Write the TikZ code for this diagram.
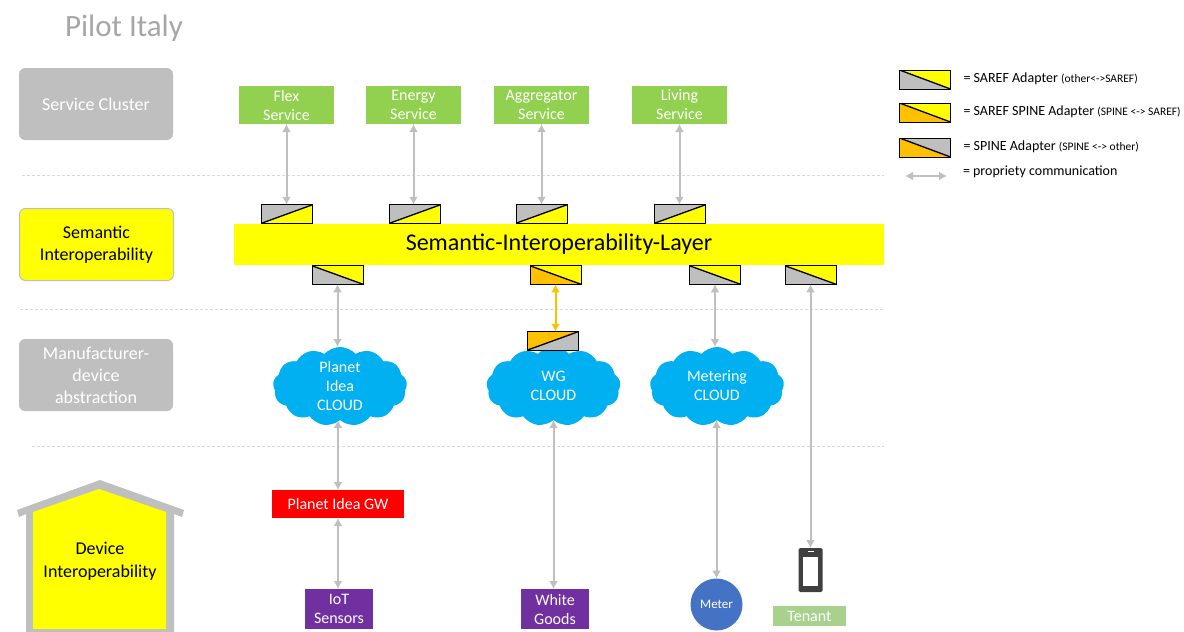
\documentclass[tikz,border=0pt]{standalone}
\usepackage{fontspec}
\setmainfont{Carlito}
\usetikzlibrary{positioning}
\usetikzlibrary{shapes.symbols}
\usetikzlibrary{arrows.meta}
\definecolor{lightgrey}{HTML}{BFBFBF}
\definecolor{darkgrey}{HTML}{404040}
\definecolor{titlegrey}{HTML}{A6A6A6}
\definecolor{dashgrey}{HTML}{D5D8DE}
\definecolor{brightyellow}{HTML}{FFFF00}
\definecolor{servicegreen}{HTML}{92D050}
\definecolor{tenantgreen}{HTML}{A9D18E}
\definecolor{cloudblue}{HTML}{00B0F0}
\definecolor{meterblue}{HTML}{4472C4}
\definecolor{sensorpurple}{HTML}{7030A0}
\definecolor{adapterorange}{HTML}{FFC000}
\definecolor{gwred}{HTML}{FF0000}
\tikzset{
	every node/.style = {font=\fontsize{16}{19}\selectfont, align=center, inner sep=0pt, outer sep=0pt},
	layerbox/.style = {fill=lightgrey, rounded corners=6pt, text=white, minimum width=154pt, minimum height=72pt, font=\fontsize{18}{22}\selectfont},
	servicebox/.style = {fill=servicegreen, text=white, minimum width=95pt, minimum height=38pt},
	devicebox/.style = {fill=sensorpurple, text=white, minimum width=68pt, minimum height=40pt},
	cloudnode/.style = {cloud, cloud puffs=13, cloud puff arc=95, aspect=1.7, fill=cloudblue, minimum width=134pt, minimum height=79pt},
	cloudtext/.style = {text=white, yshift=1pt},
	adapterdown/.style 2 args = {draw=black, line width=0.9pt, minimum width=51pt, minimum height=18.5pt, path picture={
		\fill[#1] (path picture bounding box.north west) -- (path picture bounding box.south east) -- (path picture bounding box.south west) -- cycle;
		\fill[#2] (path picture bounding box.north west) -- (path picture bounding box.south east) -- (path picture bounding box.north east) -- cycle;
		\draw[line width=1.3pt] (path picture bounding box.north west) -- (path picture bounding box.south east);}},
	adapterup/.style 2 args = {draw=black, line width=0.9pt, minimum width=51pt, minimum height=18.5pt, path picture={
		\fill[#1] (path picture bounding box.south west) -- (path picture bounding box.north east) -- (path picture bounding box.north west) -- cycle;
		\fill[#2] (path picture bounding box.south west) -- (path picture bounding box.north east) -- (path picture bounding box.south east) -- cycle;
		\draw[line width=1.3pt] (path picture bounding box.south west) -- (path picture bounding box.north east);}},
	comm/.style = {{Latex[length=8pt,width=9pt]}-{Latex[length=8pt,width=9pt]}, line width=2pt, lightgrey},
	separator/.style = {densely dashed, line width=0.6pt, dashgrey},
	keytext/.style = {font=\fontsize{14}{16}\selectfont}
}
\newcommand{\keynote}[1]{{\fontsize{11.5}{12}\selectfont #1}}
\begin{document}
\begin{tikzpicture}[x=1pt, y=-1pt]
		\useasboundingbox (0,0) rectangle (1184,632);
		\node[text=titlegrey, font=\fontsize{31}{34}\selectfont] (title) at (124,28) {Pilot Italy};
		
		% separators
		\draw[separator] (22,175) -- (884,175);
		\draw[separator] (20,309) -- (884,309);
		\draw[separator] (32,446) -- (884,446);
		
		% layers
		\node[layerbox] (cluster) at (96,104) {Service Cluster};
		\node[layerbox, fill=brightyellow, draw=lightgrey, line width=1pt, text=black] (semantic) at (96.5,244.5) {Semantic\\Interoperability};
		\node[layerbox] (abstraction) at (96,375) {Manufacturer-\\device\\abstraction};
		
		% house
		\fill[lightgrey] (100,480) -- (184,510) -- (182,517) -- (174,514) -- (174,632) -- (26,632) -- (26,514) -- (19,517) -- (17,510) -- cycle;
		\fill[brightyellow] (99,489) -- (166,512) -- (166,629) -- (33,629) -- (33,512) -- cycle;
		\node[font=\fontsize{18}{23}\selectfont] (device) at (100,561) {Device\\Interoperability};
		
		% layer bar
		\node[fill=brightyellow, minimum width=650pt, minimum height=41pt, font=\fontsize{24}{26}\selectfont] (sil) at (559,244.5) {Semantic-Interoperability-Layer};
		
		% services
		\foreach \name/\x/\adx/\label in {flex/286.5/287/{Flex\\Service}, energy/413.5/415/{Energy\\Service}, aggregator/541.5/541.5/{Aggregator\\Service}, living/679.5/680/{Living\\Service}} {
			\node[servicebox] (\name) at (\x,105) {\label};
			\node[adapterup={lightgrey}{brightyellow}] (\name ad) at (\adx,214) {};
			\draw[comm] (\name.south) -- (\name.south |- \name ad.north);
		}
		
		% adapters below the bar
		\node[adapterdown={lightgrey}{brightyellow}] (planetad) at (337.5,275) {};
		\node[adapterdown={adapterorange}{brightyellow}] (wgad) at (555.5,275) {};
		\node[adapterdown={lightgrey}{brightyellow}] (meteringad) at (715,275) {};
		\node[adapterdown={lightgrey}{brightyellow}] (tenantad) at (810.5,275) {};
		
		% clouds
		\node[cloudnode, label={[cloudtext]center:{Planet\\Idea\\CLOUD}}] (planet) at (340,386.5) {};
		\node[cloudnode, label={[cloudtext]center:{WG\\CLOUD}}] (wg) at (553.5,386.5) {};
		\node[cloudnode, label={[cloudtext]center:{Metering\\CLOUD}}] (metering) at (717,386.5) {};
		\node[adapterup={adapterorange}{lightgrey}] (wgtop) at (552.5,341) {};
		
		% devices
		\node[fill=gwred, text=white, minimum width=132pt, minimum height=28pt] (gw) at (338,504) {Planet Idea GW};
		\node[devicebox] (iot) at (339,609) {IoT\\Sensors};
		\node[devicebox] (goods) at (555,609) {White\\Goods};
		\node[circle, fill=meterblue, text=white, minimum size=52pt, font=\fontsize{13}{14}\selectfont] (meter) at (716.5,604.5) {Meter};
		\node[fill=tenantgreen, text=white, minimum width=73pt, minimum height=20pt] (tenant) at (809.5,616) {Tenant};
		\node[fill=darkgrey, rounded corners=1.5pt, minimum width=24pt, minimum height=44pt] (phone) at (810.5,570) {};
		\node[fill=white, minimum width=15.5pt, minimum height=29pt] (screen) at (810.5,571) {};
		\node[fill=white, minimum width=6pt, minimum height=1.5pt] (speaker) at (810.5,551.5) {};
		
		% communication
		\draw[comm] (planetad.south) -- (planetad.south |- planet.north);
		\draw[comm, adapterorange] (wgtop.north -| wgad.south) -- (wgad.south);
		\draw[comm] (meteringad.south) -- (meteringad.south |- metering.north);
		\draw[comm] (tenantad.south) -- (tenantad.south |- phone.north);
		\draw[comm] (planet.south -| gw.north) -- (gw.north);
		\draw[comm] (gw.south) -- (gw.south |- iot.north);
		\draw[comm] (wg.south) -- (wg.south |- goods.north);
		\draw[comm] (metering.south -| meter.north) -- (meter.north);
		
		% legend
		\node[adapterdown={lightgrey}{brightyellow}, minimum height=19pt] (keysaref) at (925,79.5) {};
		\node[adapterdown={adapterorange}{brightyellow}, minimum height=19pt] (keyboth) at (925,112.5) {};
		\node[adapterdown={adapterorange}{lightgrey}, minimum height=19pt] (keyspine) at (925,147.5) {};
		\coordinate (keyleft) at (905,176);
		\coordinate (keyright) at (947,176);
		\draw[comm, line width=1.6pt] (keyleft) -- (keyright);
		\node[right=13pt of keysaref, keytext, yshift=1pt] (textsaref) {= SAREF Adapter \keynote{(other<->SAREF)}};
		\node[right=13pt of keyboth, keytext, yshift=1pt] (textboth) {= SAREF SPINE Adapter \keynote{(SPINE <-> SAREF)}};
		\node[right=13pt of keyspine, keytext, yshift=1pt] (textspine) {= SPINE Adapter \keynote{(SPINE <-> other)}};
		\node[right=16pt of keyright, keytext, yshift=4pt] (textcomm) {= propriety communication};
	\end{tikzpicture}
\end{document}
